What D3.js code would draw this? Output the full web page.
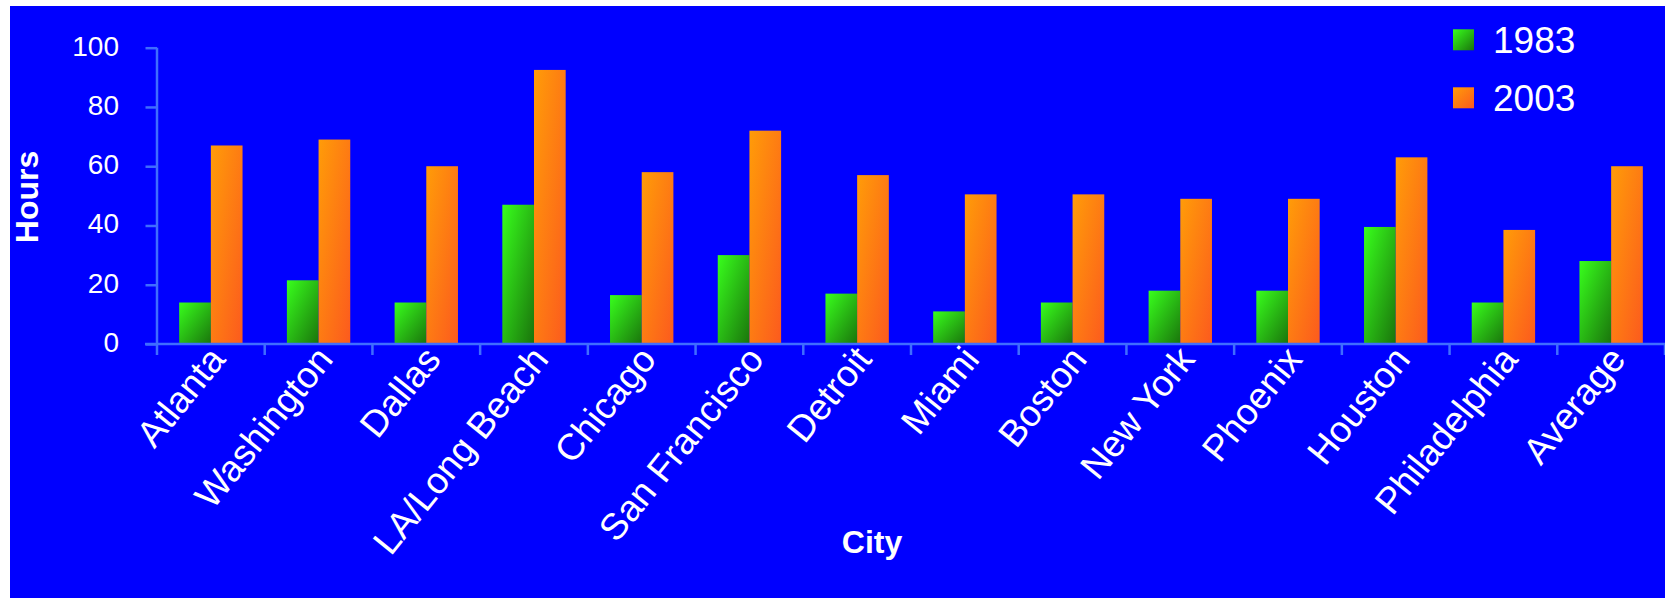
<!DOCTYPE html>
<html>
<head>
<meta charset="utf-8">
<script src="https://cdn.jsdelivr.net/npm/d3@7"></script>
<style>
  html, body { margin: 0; padding: 0; background: #ffffff; }
  svg { display: block; }
  text { font-family: "Liberation Sans", Arial, Helvetica, sans-serif; fill: #ffffff; }
</style>
</head>
<body>
<svg id="chart" width="1665" height="598"></svg>
<script>
const cities = ["Atlanta", "Washington", "Dallas", "LA/Long Beach", "Chicago", "San Francisco",
  "Detroit", "Miami", "Boston", "New York", "Phoenix", "Houston", "Philadelphia", "Average"];
const seriesNames = ["1983", "2003"];
const values1983 = [14, 21.5, 14, 47, 16.5, 30, 17, 11, 14, 18, 18, 39.5, 14, 28];
const values2003 = [67, 69, 60, 92.5, 58, 72, 57, 50.5, 50.5, 49, 49, 63, 38.5, 60];
const yTicks = [0, 20, 40, 60, 80, 100];
const yTitle = "Hours";
const xTitle = "City";

const W = 1665, H = 598;
const plot = { left: 157, right: 1665, top: 47.7, bottom: 344 };
const axisColor = "#3f6dff";

const svg = d3.select("#chart");

// gradients
const defs = svg.append("defs");
function grad(id, c1, c2) {
  const g = defs.append("linearGradient").attr("id", id)
    .attr("x1", 0).attr("y1", 0).attr("x2", 1).attr("y2", 1);
  g.append("stop").attr("offset", "0%").attr("stop-color", c1);
  g.append("stop").attr("offset", "100%").attr("stop-color", c2);
}
grad("g1983", "#38ff1c", "#1a740c");
grad("g2003", "#ff9c08", "#fc5a1e");

// background
svg.append("rect").attr("x", 10).attr("y", 6).attr("width", W - 10).attr("height", H - 6)
  .attr("fill", "#0000ff");

const x0 = d3.scaleBand().domain(cities).range([plot.left, plot.right]).paddingInner(0).paddingOuter(0);
const x1 = d3.scaleBand().domain(seriesNames).range([0, x0.bandwidth()]).paddingInner(0).paddingOuter(0.7);
const y = d3.scaleLinear().domain([0, 100]).range([plot.bottom, plot.top]);

const data = cities.map((c, i) => ({ city: c, vals: [
  { s: "1983", v: values1983[i] }, { s: "2003", v: values2003[i] }] }));

// bars
const groups = svg.append("g").selectAll("g").data(data).join("g")
  .attr("transform", d => `translate(${x0(d.city)},0)`);
groups.selectAll("rect").data(d => d.vals).join("rect")
  .attr("x", d => x1(d.s))
  .attr("width", x1.bandwidth())
  .attr("y", d => y(d.v))
  .attr("height", d => y(0) - y(d.v))
  .attr("fill", d => `url(#g${d.s})`);

// y axis
const yAxis = d3.axisLeft(y).tickValues(yTicks).tickSize(11.5).tickPadding(0).tickFormat(d3.format("d"));
const gy = svg.append("g").attr("transform", `translate(${plot.left},0)`).call(yAxis);
gy.select(".domain").attr("stroke", axisColor).attr("stroke-width", 2.5)
  .attr("d", `M0,${plot.top}V${plot.bottom}`);
gy.selectAll(".tick line").attr("stroke", axisColor).attr("stroke-width", 2.5);
gy.selectAll(".tick text").attr("x", -38).attr("dy", "7.5").attr("text-anchor", "end")
  .attr("font-size", 28).attr("fill", "#fff").style("font-family", "'Liberation Sans', Arial, sans-serif");

// x axis
const xAxis = d3.axisBottom(x0).tickSize(0).tickFormat(d => d);
const gx = svg.append("g").attr("transform", `translate(0,${plot.bottom})`).call(xAxis);
gx.select(".domain").attr("stroke", axisColor).attr("stroke-width", 2.5)
  .attr("d", `M${plot.left - 12},0H${W}`);
// category boundary ticks
const boundaries = cities.map(c => x0(c)).concat([x0(cities[cities.length - 1]) + x0.step()]);
gx.selectAll(".btick").data(boundaries).join("line").attr("class", "btick")
  .attr("x1", d => d).attr("x2", d => d).attr("y1", 0).attr("y2", 11)
  .attr("stroke", axisColor).attr("stroke-width", 2.5);
gx.selectAll(".tick text")
  .attr("y", 0).attr("dy", 0)
  .attr("text-anchor", "end")
  .attr("font-size", 37)
  .attr("fill", "#fff")
  .style("font-family", "'Liberation Sans', Arial, sans-serif")
  .attr("transform", "translate(16,16) rotate(-51)");

// axis titles
svg.append("text").attr("transform", "translate(38,197) rotate(-90)")
  .attr("text-anchor", "middle").attr("font-size", 32).attr("font-weight", "bold").text(yTitle);
svg.append("text").attr("x", 872).attr("y", 553).attr("text-anchor", "middle")
  .attr("font-size", 32).attr("font-weight", "bold").text(xTitle);

// legend
const legend = svg.append("g").selectAll("g").data(seriesNames).join("g")
  .attr("transform", (d, i) => `translate(1453,${29.3 + i * 58})`);
legend.append("rect").attr("width", 21).attr("height", 21).attr("fill", d => `url(#g${d})`);
legend.append("text").attr("x", 40).attr("y", 23.5).attr("font-size", 37).text(d => d);
</script>
</body>
</html>
